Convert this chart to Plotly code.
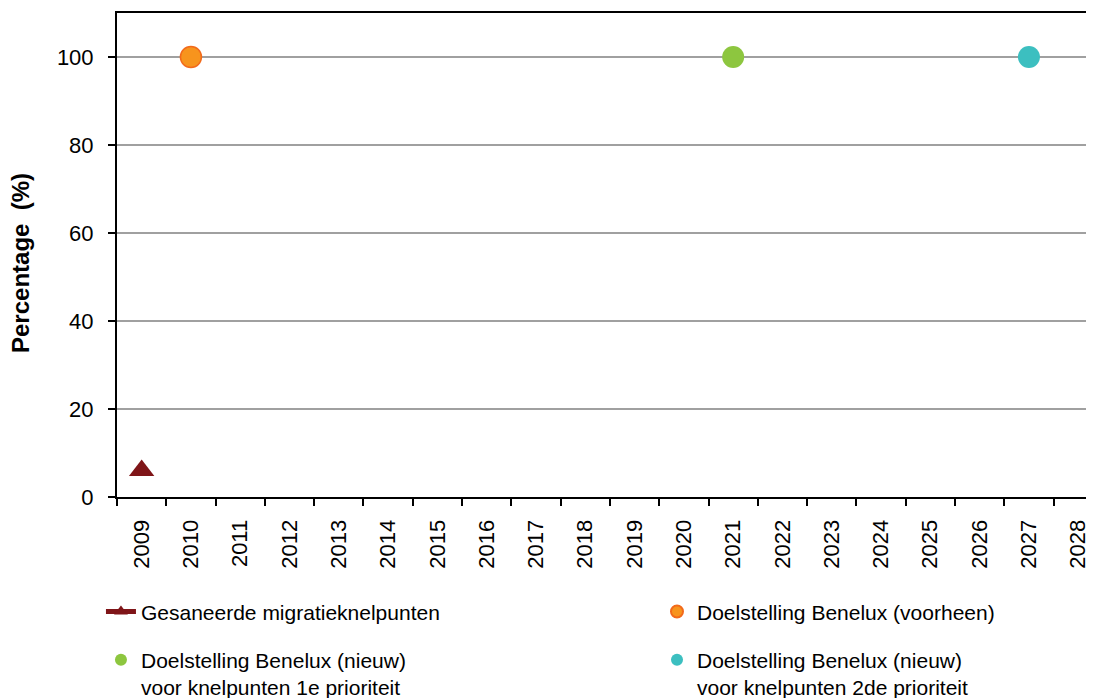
import plotly.graph_objects as go

# ---- data ----
years = [str(y) for y in range(2009, 2029)]

gesaneerd_x = ["2009"]
gesaneerd_y = [6]

voorheen_x = ["2010"]
voorheen_y = [100]

nieuw1_x = ["2021"]
nieuw1_y = [100]

nieuw2_x = ["2027"]
nieuw2_y = [100]

y_ticks = [0, 20, 40, 60, 80, 100]

FONT = "Liberation Sans, Arial, sans-serif"

fig = go.Figure()

fig.add_trace(go.Scatter(
    x=gesaneerd_x, y=gesaneerd_y, mode="lines+markers",
    name="Gesaneerde migratieknelpunten",
    line=dict(color="#7F1518", width=1.5),
    marker=dict(symbol="triangle-up", size=22, color="#7F1518"),
    legend="legend", legendgroup="a",
))
fig.add_trace(go.Scatter(
    x=voorheen_x, y=voorheen_y, mode="markers",
    name="Doelstelling Benelux (voorheen)",
    marker=dict(symbol="circle", size=21, color="#F7941D",
                line=dict(color="#F26A1B", width=1.5)),
    legend="legend2", legendgroup="b",
))
fig.add_trace(go.Scatter(
    x=nieuw1_x, y=nieuw1_y, mode="markers",
    name="Doelstelling Benelux (nieuw)<br>voor knelpunten 1e prioriteit",
    marker=dict(symbol="circle", size=22, color="#8DC63F"),
    legend="legend", legendgroup="c",
))
fig.add_trace(go.Scatter(
    x=nieuw2_x, y=nieuw2_y, mode="markers",
    name="Doelstelling Benelux (nieuw)<br>voor knelpunten 2de prioriteit",
    marker=dict(symbol="circle", size=22, color="#3CBFC0"),
    legend="legend2", legendgroup="d",
))

legend_common = dict(
    orientation="v", xanchor="left", yanchor="top",
    xref="container", yref="container",
    font=dict(family=FONT, size=21, color="#000000"),
    itemsizing="constant", valign="top", tracegroupgap=18,
    bgcolor="rgba(0,0,0,0)",
)

fig.update_layout(
    width=1086, height=690,
    margin=dict(l=109, r=0, t=5, b=201, autoexpand=False),
    paper_bgcolor="white", plot_bgcolor="white",
    font=dict(family=FONT, size=22, color="#000000"),
    showlegend=True,
    legend=dict(x=0.0856, y=0.1545, **legend_common),
    legend2=dict(x=0.5976, y=0.1545, **legend_common),
    xaxis=dict(
        type="category", categoryorder="array", categoryarray=years,
        range=[-0.5, 19.32],
        tickson="boundaries", ticks="outside", ticklen=7, tickwidth=2,
        tickcolor="#000000", tickangle=-90, ticklabelstandoff=12,
        tickfont=dict(family=FONT, size=22, color="#000000"),
        showline=True, linecolor="#000000", linewidth=2, mirror=True,
        showgrid=False, zeroline=False, fixedrange=True,
    ),
    yaxis=dict(
        range=[0, 110], tickvals=y_ticks,
        ticks="outside", ticklen=7, tickwidth=2, tickcolor="#000000",
        tickfont=dict(family=FONT, size=22, color="#000000"),
        ticklabelstandoff=10,
        showline=True, linecolor="#000000", linewidth=2,
        showgrid=True, gridcolor="#A0A0A0", gridwidth=1.5,
        zeroline=False, fixedrange=True,
    ),
    annotations=[dict(
        text="<b>Percentage  (%)</b>", textangle=-90,
        xref="paper", yref="paper", x=0, y=0.4835,
        xanchor="center", yanchor="middle", xshift=-96, showarrow=False,
        font=dict(family=FONT, size=24, color="#000000"),
    )],
)

fig.write_html("out.html")
